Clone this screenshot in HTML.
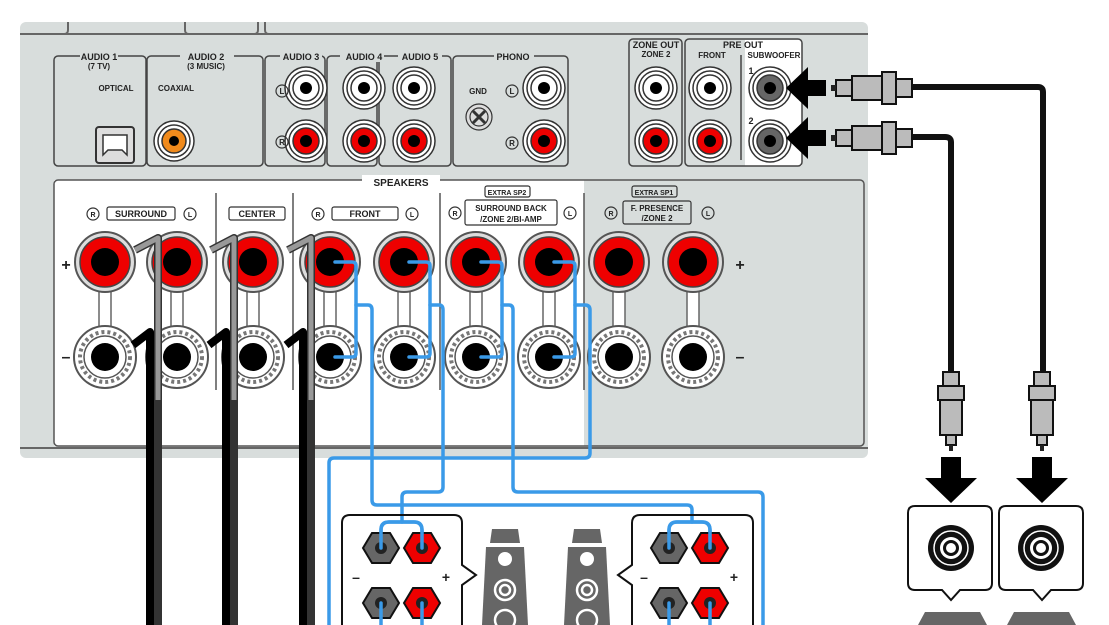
<!DOCTYPE html>
<html><head><meta charset="utf-8"><style>
html,body{margin:0;padding:0;background:#fff;width:1109px;height:625px;overflow:hidden}
svg{display:block}
text{font-family:"Liberation Sans",sans-serif;font-weight:bold;fill:#222}
</style></head><body>
<svg width="1109" height="625" viewBox="0 0 1109 625">
<defs>
<g id="rca"><circle r="21" fill="#fff" stroke="#333" stroke-width="1.5"/><circle r="17" fill="none" stroke="#333" stroke-width="1.5"/><circle r="13" fill="none" stroke="#333" stroke-width="1.5"/><circle r="6" fill="#000"/></g>
<g id="rcar"><circle r="21" fill="#fff" stroke="#333" stroke-width="1.5"/><circle r="17" fill="none" stroke="#333" stroke-width="1.5"/><circle r="13" fill="#e00" stroke="#333" stroke-width="1.5"/><circle r="6" fill="#000"/></g>
<g id="rcag"><circle r="21" fill="#fff" stroke="#333" stroke-width="1.5"/><circle r="17" fill="none" stroke="#333" stroke-width="1.5"/><circle r="13" fill="#666" stroke="#333" stroke-width="1.5"/><circle r="6" fill="#000"/></g>
<g id="tp"><circle r="30" fill="#ddd" stroke="#555" stroke-width="2"/><circle r="25" fill="#e00" stroke="#444" stroke-width="1.5"/><circle r="14" fill="#000"/></g>
<g id="tm"><circle r="31" fill="#fff" stroke="#555" stroke-width="2"/><circle r="25" fill="#fff" stroke="#777" stroke-width="4" stroke-dasharray="3 3"/><circle r="21" fill="#fff" stroke="#555" stroke-width="1.5"/><circle r="14" fill="#000"/></g>
<g id="hexg"><polygon points="-18,0 -9,-15 9,-15 18,0 9,15 -9,15" fill="#666" stroke="#111" stroke-width="2"/><circle r="6" fill="#222"/></g>
<g id="hexr"><polygon points="-18,0 -9,-15 9,-15 18,0 9,15 -9,15" fill="#e00" stroke="#111" stroke-width="2"/><circle r="6" fill="#222"/></g>
</defs>
<!-- panel -->
<rect x="20" y="22" width="848" height="436" rx="6" fill="#d8dddc"/>
<line x1="20" y1="34" x2="868" y2="34" stroke="#666" stroke-width="2"/>
<path d="M20 34 H64 Q68 34 68 30 V22" fill="none" stroke="#666" stroke-width="2"/>
<path d="M185 22 V30 Q185 34 189 34 H254 Q258 34 258 30 V22" fill="none" stroke="#666" stroke-width="2"/>
<path d="M265 22 V30 Q265 34 269 34" fill="none" stroke="#666" stroke-width="2"/>
<line x1="20" y1="448" x2="868" y2="448" stroke="#666" stroke-width="2"/>
<!-- top boxes -->
<g fill="none" stroke="#444" stroke-width="1.5">
<rect x="54" y="56" width="92" height="110" rx="4"/>
<rect x="147" y="56" width="116" height="110" rx="4"/>
<rect x="265" y="56" width="60" height="110" rx="4"/>
<rect x="327" y="56" width="50" height="110" rx="4"/>
<rect x="379" y="56" width="72" height="110" rx="4"/>
<rect x="453" y="56" width="115" height="110" rx="4"/>
<rect x="629" y="39" width="53" height="127" rx="4"/>
</g>
<rect x="745" y="40" width="57" height="126" fill="#fff"/>
<rect x="685" y="39" width="117" height="127" rx="4" fill="none" stroke="#444" stroke-width="1.5"/>
<line x1="741" y1="55" x2="741" y2="160" stroke="#444" stroke-width="1.5"/>
<g font-size="9" text-anchor="middle">
<rect x="80" y="50" width="38" height="12" fill="#d8dddc"/><text x="99" y="60">AUDIO 1</text><text x="99" y="69" font-size="8">(7 TV)</text>
<rect x="180" y="50" width="54" height="12" fill="#d8dddc"/><text x="206" y="60">AUDIO 2</text><text x="206" y="69" font-size="8">(3 MUSIC)</text>
<rect x="280" y="50" width="42" height="12" fill="#d8dddc"/><text x="301" y="60">AUDIO 3</text>
<rect x="340" y="50" width="44" height="12" fill="#d8dddc"/><text x="364" y="60">AUDIO 4</text>
<rect x="398" y="50" width="44" height="12" fill="#d8dddc"/><text x="420" y="60">AUDIO 5</text>
<rect x="494" y="50" width="40" height="12" fill="#d8dddc"/><text x="513" y="60">PHONO</text>
<text x="116" y="91" font-size="8">OPTICAL</text>
<text x="176" y="91" font-size="8">COAXIAL</text>
<text x="478" y="94" font-size="8">GND</text>
<text x="656" y="48">ZONE OUT</text><text x="656" y="57" font-size="8">ZONE 2</text>
<text x="743" y="48">PRE OUT</text><text x="712" y="58" font-size="8">FRONT</text><text x="774" y="58" font-size="8">SUBWOOFER</text>
<text x="751" y="74" font-size="9">1</text><text x="751" y="124" font-size="9">2</text>
</g>
<!-- optical, coax -->
<rect x="96" y="127" width="38" height="36" rx="3" fill="#ddd" stroke="#333" stroke-width="2"/>
<path d="M103 155 V135 H127 V155 L122 150 H108 Z" fill="#fff" stroke="#333" stroke-width="1.5"/>
<circle cx="174" cy="141" r="20" fill="#fff" stroke="#333" stroke-width="1.5"/><circle cx="174" cy="141" r="16" fill="none" stroke="#333" stroke-width="1.5"/><circle cx="174" cy="141" r="12" fill="#f08a1c" stroke="#333" stroke-width="1.5"/><circle cx="174" cy="141" r="5" fill="#000"/>
<!-- RCA -->
<use href="#rca" x="306" y="88"/><use href="#rcar" x="306" y="141"/>
<use href="#rca" x="364" y="88"/><use href="#rcar" x="364" y="141"/>
<use href="#rca" x="414" y="88"/><use href="#rcar" x="414" y="141"/>
<use href="#rca" x="544" y="88"/><use href="#rcar" x="544" y="141"/>
<use href="#rca" x="656" y="88"/><use href="#rcar" x="656" y="141"/>
<use href="#rca" x="710" y="88"/><use href="#rcar" x="710" y="141"/>
<use href="#rcag" x="770" y="88"/><use href="#rcag" x="770" y="141"/>
<g font-size="9" text-anchor="middle" fill="none" stroke="#333" stroke-width="1.2">
<circle cx="282" cy="91" r="6"/><circle cx="282" cy="142" r="6"/><circle cx="512" cy="91" r="6"/><circle cx="512" cy="143" r="6"/>
<circle cx="479" cy="117" r="13" fill="#ddd"/><circle cx="479" cy="117" r="9"/>
</g>
<path d="M473 111 L485 123 M485 111 L473 123" stroke="#333" stroke-width="3"/>
<g font-size="8" text-anchor="middle"><text x="282" y="94">L</text><text x="282" y="145">R</text><text x="512" y="94">L</text><text x="512" y="146">R</text></g>
<!-- speakers box -->
<rect x="54" y="180" width="530" height="266" fill="#fff"/>
<rect x="54" y="180" width="810" height="266" rx="4" fill="none" stroke="#555" stroke-width="1.5"/>
<rect x="362" y="175" width="78" height="14" fill="#fff"/>
<text x="401" y="186" font-size="10" text-anchor="middle">SPEAKERS</text>
<g stroke="#555" stroke-width="1.5">
<line x1="216" y1="193" x2="216" y2="390"/><line x1="293" y1="193" x2="293" y2="390"/>
<line x1="440" y1="193" x2="440" y2="390"/><line x1="584" y1="193" x2="584" y2="390"/>
</g>
<g font-size="9" text-anchor="middle" fill="none" stroke="#333" stroke-width="1.2">
<rect x="107" y="207" width="68" height="13" rx="2"/><rect x="229" y="207" width="56" height="13" rx="2"/><rect x="332" y="207" width="66" height="13" rx="2"/>
<rect x="485" y="186" width="45" height="11" rx="2"/><rect x="465" y="200" width="92" height="25" rx="2"/>
<rect x="632" y="186" width="45" height="11" rx="2"/><rect x="623" y="201" width="68" height="23" rx="2"/>
<circle cx="93" cy="214" r="6"/><circle cx="190" cy="214" r="6"/><circle cx="318" cy="214" r="6"/><circle cx="412" cy="214" r="6"/>
<circle cx="455" cy="213" r="6"/><circle cx="570" cy="213" r="6"/><circle cx="611" cy="213" r="6"/><circle cx="708" cy="213" r="6"/>
</g>
<g font-size="9" text-anchor="middle">
<text x="141" y="217">SURROUND</text><text x="257" y="217">CENTER</text><text x="365" y="217">FRONT</text>
<text x="507" y="195" font-size="7">EXTRA SP2</text><text x="511" y="211" font-size="8">SURROUND BACK</text><text x="511" y="222" font-size="8">/ZONE 2/BI-AMP</text>
<text x="654" y="195" font-size="7">EXTRA SP1</text><text x="657" y="211" font-size="8">F. PRESENCE</text><text x="657" y="221" font-size="8">/ZONE 2</text>
<g font-size="7"><text x="93" y="217">R</text><text x="190" y="217">L</text><text x="318" y="217">R</text><text x="412" y="217">L</text><text x="455" y="216">R</text><text x="570" y="216">L</text><text x="611" y="216">R</text><text x="708" y="216">L</text></g>
<text x="66" y="270" font-size="16" font-weight="normal">+</text><text x="66" y="362" font-size="16" font-weight="normal">–</text>
<text x="740" y="270" font-size="16" font-weight="normal">+</text><text x="740" y="362" font-size="16" font-weight="normal">–</text>
</g>
<!-- terminals -->
<g>
<g id="bars">
<rect x="99" y="290" width="12" height="45" fill="#fff" stroke="#666" stroke-width="1.5"/>
<rect x="171" y="290" width="12" height="45" fill="#fff" stroke="#666" stroke-width="1.5"/>
<rect x="247" y="290" width="12" height="45" fill="#fff" stroke="#666" stroke-width="1.5"/>
<rect x="324" y="290" width="12" height="45" fill="#fff" stroke="#666" stroke-width="1.5"/>
<rect x="398" y="290" width="12" height="45" fill="#fff" stroke="#666" stroke-width="1.5"/>
<rect x="470" y="290" width="12" height="45" fill="#fff" stroke="#666" stroke-width="1.5"/>
<rect x="543" y="290" width="12" height="45" fill="#fff" stroke="#666" stroke-width="1.5"/>
<rect x="613" y="290" width="12" height="45" fill="#fff" stroke="#666" stroke-width="1.5"/>
<rect x="687" y="290" width="12" height="45" fill="#fff" stroke="#666" stroke-width="1.5"/>
</g>
<use href="#tp" x="105" y="262"/><use href="#tm" x="105" y="357"/>
<use href="#tp" x="177" y="262"/><use href="#tm" x="177" y="357"/>
<use href="#tp" x="253" y="262"/><use href="#tm" x="253" y="357"/>
<use href="#tp" x="330" y="262"/><use href="#tm" x="330" y="357"/>
<use href="#tp" x="404" y="262"/><use href="#tm" x="404" y="357"/>
<use href="#tp" x="476" y="262"/><use href="#tm" x="476" y="357"/>
<use href="#tp" x="549" y="262"/><use href="#tm" x="549" y="357"/>
<use href="#tp" x="619" y="262"/><use href="#tm" x="619" y="357"/>
<use href="#tp" x="693" y="262"/><use href="#tm" x="693" y="357"/>
</g>
<!-- black/gray cables -->
<g fill="none" stroke-linejoin="round">
<g stroke="#000" stroke-width="8">
<path d="M133 345 L150 332 V625"/><path d="M209 345 L226 332 V625"/><path d="M286 345 L303 332 V625"/>
</g>
<g stroke="#333" stroke-width="8"><path d="M135 250 L158 238 V625"/><path d="M211 250 L234 238 V625"/><path d="M288 250 L311 238 V625"/></g>
<g stroke="#999" stroke-width="5"><path d="M135 250 L158 238 V400"/><path d="M211 250 L234 238 V400"/><path d="M288 250 L311 238 V400"/></g>
</g>
<!-- blue wires -->
<g fill="none" stroke="#3a9ae8" stroke-width="3.5" stroke-linejoin="round" stroke-linecap="round">
<path d="M335 262 H352 Q356 262 356 266 V353 Q356 357 352 357 H335"/>
<path d="M409 262 H426 Q430 262 430 266 V353 Q430 357 426 357 H409"/>
<path d="M481 262 H498 Q502 262 502 266 V353 Q502 357 498 357 H481"/>
<path d="M554 262 H571 Q575 262 575 266 V353 Q575 357 571 357 H554"/>
<path d="M356 305 H368 Q372 305 372 310 V500 Q372 505 377 505 H687 Q692 505 692 510 V522"/>
<path d="M430 305 H439 Q443 305 443 310 V487 Q443 492 438 492 H407 Q402 492 402 497 V522"/>
<path d="M502 305 H509 Q513 305 513 310 V487 Q513 492 518 492 H758 Q763 492 763 497 V625"/>
<path d="M575 305 H585 Q590 305 590 310 V453 Q590 458 585 458 H334 Q329 458 329 463 V625"/>
<path d="M381 548 V530 Q381 522 389 522 H414 Q422 522 422 530 V548"/>
<path d="M669 548 V530 Q669 522 677 522 H702 Q710 522 710 530 V548"/>
</g>
<!-- speaker boxes -->
<g fill="none" stroke="#111" stroke-width="2">
<path d="M342 625 V523 Q342 515 350 515 H454 Q462 515 462 523 V565 L476 575 L462 585 V625"/>
<path d="M753 625 V523 Q753 515 745 515 H640 Q632 515 632 523 V565 L618 575 L632 585 V625"/>
</g>
<use href="#hexg" x="381" y="548"/><use href="#hexr" x="422" y="548"/>
<use href="#hexg" x="381" y="603"/><use href="#hexr" x="422" y="603"/>
<use href="#hexg" x="669" y="548"/><use href="#hexr" x="710" y="548"/>
<use href="#hexg" x="669" y="603"/><use href="#hexr" x="710" y="603"/>
<g fill="none" stroke="#3a9ae8" stroke-width="3.5" stroke-linecap="round">
<path d="M381 548 V530 Q381 522 389 522 H414 Q422 522 422 530 V548"/><path d="M669 548 V530 Q669 522 677 522 H702 Q710 522 710 530 V548"/>
<path d="M381 603 V625 M422 603 V625 M669 603 V625 M710 603 V625"/>
</g>
<g font-size="14" text-anchor="middle" font-weight="normal"><text x="356" y="582">–</text><text x="446" y="582">+</text><text x="644" y="582">–</text><text x="734" y="582">+</text></g>
<!-- towers -->
<g fill="#666">
<path d="M492 529 H518 L520 543 H490 Z"/><path d="M486 547 H524 L528 625 H482 Z"/>
<path d="M574 529 H600 L602 543 H572 Z"/><path d="M568 547 H606 L610 625 H564 Z"/>
</g>
<g fill="#fff"><circle cx="505" cy="559" r="7"/><circle cx="587" cy="559" r="7"/></g>
<g fill="none" stroke="#fff" stroke-width="2.5"><circle cx="505" cy="590" r="10"/><circle cx="505" cy="590" r="5"/><circle cx="587" cy="590" r="10"/><circle cx="587" cy="590" r="5"/><circle cx="505" cy="620" r="10"/><circle cx="587" cy="620" r="10"/></g>
<!-- sub cables -->
<g fill="none" stroke="#111" stroke-width="6" stroke-linejoin="round">
<path d="M912 87 H1038 Q1043 87 1043 92 V372"/>
<path d="M912 137 H945 Q951 137 951 142 V372"/>
</g>
<g id="hplug">
<rect x="836" y="80" width="16" height="16" fill="#bbb" stroke="#111" stroke-width="2"/>
<rect x="852" y="76" width="30" height="24" fill="#bbb" stroke="#111" stroke-width="2"/>
<rect x="882" y="72" width="14" height="32" fill="#bbb" stroke="#111" stroke-width="2"/>
<rect x="896" y="79" width="16" height="18" fill="#bbb" stroke="#111" stroke-width="2"/>
<rect x="831" y="85" width="5" height="6" fill="#222"/>
</g>
<use href="#hplug" y="50"/>
<path d="M826 80 H808 V67 L786 88 L808 109 V96 H826 Z" fill="#000"/>
<path d="M826 130 H808 V117 L786 138 L808 159 V146 H826 Z" fill="#000"/>
<g id="vplug">
<rect x="943" y="372" width="16" height="14" fill="#bbb" stroke="#111" stroke-width="2"/>
<rect x="938" y="386" width="26" height="14" fill="#bbb" stroke="#111" stroke-width="2"/>
<rect x="940" y="400" width="22" height="35" fill="#bbb" stroke="#111" stroke-width="2"/>
<rect x="946" y="435" width="10" height="10" fill="#bbb" stroke="#111" stroke-width="2"/>
<rect x="949" y="445" width="4" height="6" fill="#222"/>
</g>
<use href="#vplug" x="91"/>
<path d="M941 457 H961 V478 H977 L951 503 L925 478 H941 Z" fill="#000"/>
<path d="M1032 457 H1052 V478 H1068 L1042 503 L1016 478 H1032 Z" fill="#000"/>
<g fill="#fff" stroke="#111" stroke-width="2">
<path d="M915 506 H985 Q992 506 992 513 V583 Q992 590 985 590 H960 L951 600 L942 590 H915 Q908 590 908 583 V513 Q908 506 915 506 Z"/>
<path d="M1006 506 H1076 Q1083 506 1083 513 V583 Q1083 590 1076 590 H1051 L1042 600 L1033 590 H1006 Q999 590 999 583 V513 Q999 506 1006 506 Z"/>
</g>
<g><circle cx="951" cy="548" r="23" fill="#111"/><circle cx="951" cy="548" r="17" fill="none" stroke="#fff" stroke-width="1.5"/><circle cx="951" cy="548" r="11" fill="#fff"/><circle cx="951" cy="548" r="8" fill="#111"/><circle cx="951" cy="548" r="5" fill="#fff"/>
<circle cx="1041" cy="548" r="23" fill="#111"/><circle cx="1041" cy="548" r="17" fill="none" stroke="#fff" stroke-width="1.5"/><circle cx="1041" cy="548" r="11" fill="#fff"/><circle cx="1041" cy="548" r="8" fill="#111"/><circle cx="1041" cy="548" r="5" fill="#fff"/></g>
<path d="M925 612 H980 L987 625 H918 Z" fill="#666"/>
<path d="M1014 612 H1069 L1076 625 H1007 Z" fill="#666"/>
</svg>
</body></html>
